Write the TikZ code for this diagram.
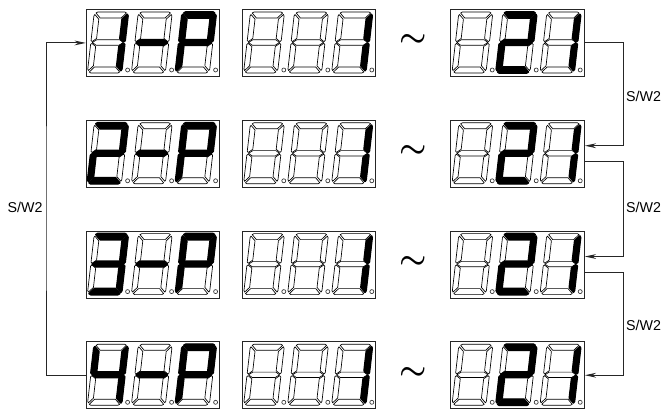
\documentclass[tikz,border=0pt]{standalone}
\usepackage{fontspec}
\setmainfont{Liberation Sans}
\usetikzlibrary{calc,arrows.meta}
\def\sega{(1.8,1)--(3.5,0)--(30.5,0)--(32.2,1)--(27.5,6)--(6.5,6)--cycle}
\def\segd{(1.8,60)--(3.5,61)--(30.5,61)--(32.2,60)--(27.5,55)--(6.5,55)--cycle}
\def\segf{(0.8,2.5)--(5.3,7.2)--(5.3,26.5)--(1.2,29.6)--(0,28.5)--(0,4)--cycle}
\def\segb{(33.2,2.5)--(28.7,7.2)--(28.7,26.5)--(32.8,29.6)--(34,28.5)--(34,4)--cycle}
\def\sege{(0.8,58.5)--(5.3,53.8)--(5.3,34.5)--(1.2,31.4)--(0,32.5)--(0,57)--cycle}
\def\segc{(33.2,58.5)--(28.7,53.8)--(28.7,34.5)--(32.8,31.4)--(34,32.5)--(34,57)--cycle}
\def\segg{(1.5,30.5)--(5.5,27.8)--(28.5,27.8)--(32.5,30.5)--(28.5,33.2)--(5.5,33.2)--cycle}
\newcommand\sevenseg[3]{%
  \begin{scope}[shift={(#1,#2)},xslant=0.115,xshift=5.2pt]
    \foreach \s in {a,b,c,d,e,f,g} {\draw[seghollow] \csname seg\s\endcsname;}
    \foreach \s in {#3} {\draw[seglit] \csname seg\s\endcsname;}
  \end{scope}
  \draw[segdot] ({#1+40.2},{#2+58}) circle (2);
}
\newcommand\display[6]{% name, left, top, three digit segment lists
  \node[dispframe,anchor=north west] (#1) at (#2,#3) {};
  \sevenseg{#2+1.6}{#3+3}{#4}
  \sevenseg{#2+45.6}{#3+3}{#5}
  \sevenseg{#2+89.6}{#3+3}{#6}
}
\tikzset{
  x=0.75pt,y=-0.75pt,
  dispframe/.style={draw=black!85,line width=0.7pt,inner sep=0pt,minimum width=100.1pt,minimum height=50.2pt},
  seghollow/.style={draw=black,line width=0.5pt,fill=white,line join=round},
  seglit/.style={draw=black,line width=1.4pt,fill=black,line join=round},
  segdot/.style={draw=black!80,line width=0.5pt},
  wire/.style={draw=black!85,line width=0.7pt},
  arrowwire/.style={wire,-{Stealth[length=8.5pt,width=3.6pt]}},
  lab/.style={inner sep=0pt,font=\fontsize{10.7}{12}\selectfont,text=black},
  tild/.style={inner sep=0pt,scale=2.3,text=black,font=\boldmath},
}
\begin{document}
\begin{tikzpicture}
\useasboundingbox (0,0) rectangle (661,409);
\fill[white] (0,0) rectangle (661,409);
\display{L1}{85.8}{9}{b,c}{g}{a,b,f,g,e}
\display{M1}{242}{9}{}{}{b,c}
\display{R1}{450.4}{9}{}{a,b,g,e,d}{b,c}
\display{L2}{85.8}{119.8}{a,b,g,e,d}{g}{a,b,f,g,e}
\display{M2}{242}{119.8}{}{}{b,c}
\display{R2}{450.4}{119.8}{}{a,b,g,e,d}{b,c}
\display{L3}{85.8}{230.6}{a,b,g,c,d}{g}{a,b,f,g,e}
\display{M3}{242}{230.6}{}{}{b,c}
\display{R3}{450.4}{230.6}{}{a,b,g,e,d}{b,c}
\display{L4}{85.8}{341.3}{f,g,b,c}{g}{a,b,f,g,e}
\display{M4}{242}{341.3}{}{}{b,c}
\display{R4}{450.4}{341.3}{}{a,b,g,e,d}{b,c}
\node[tild] (t1) at (413.5,41) {$\sim$};
\node[tild] (t2) at (413.5,152) {$\sim$};
\node[tild] (t3) at (413.5,263) {$\sim$};
\node[tild] (t4) at (413.5,373.5) {$\sim$};
\coordinate (i2) at ($(R2.east)+(0,-8)$);
\coordinate (o2) at ($(R2.east)+(0,8)$);
\coordinate (i3) at ($(R3.east)+(0,-8)$);
\coordinate (o3) at ($(R3.east)+(0,8)$);
\coordinate (wr1) at (623.3,96);
\coordinate (wr2) at (623.3,207);
\coordinate (wr3) at (623.3,325);
\coordinate (wl) at (46,208);
\draw[arrowwire] (R1.east) -| (wr1) |- (i2);
\draw[arrowwire] (o2) -| (wr2) |- (i3);
\draw[arrowwire] (o3) -| (wr3) |- (R4.east);
\draw[arrowwire] (L4.west) -| (wl) |- (L1.west);
\node[lab] (s1) at (643.5,96.5) {S/W2};
\node[lab] (s2) at (643.5,207) {S/W2};
\node[lab] (s3) at (643.5,325.7) {S/W2};
\node[lab] (s4) at (25,207.7) {S/W2};
\end{tikzpicture}
\end{document}
